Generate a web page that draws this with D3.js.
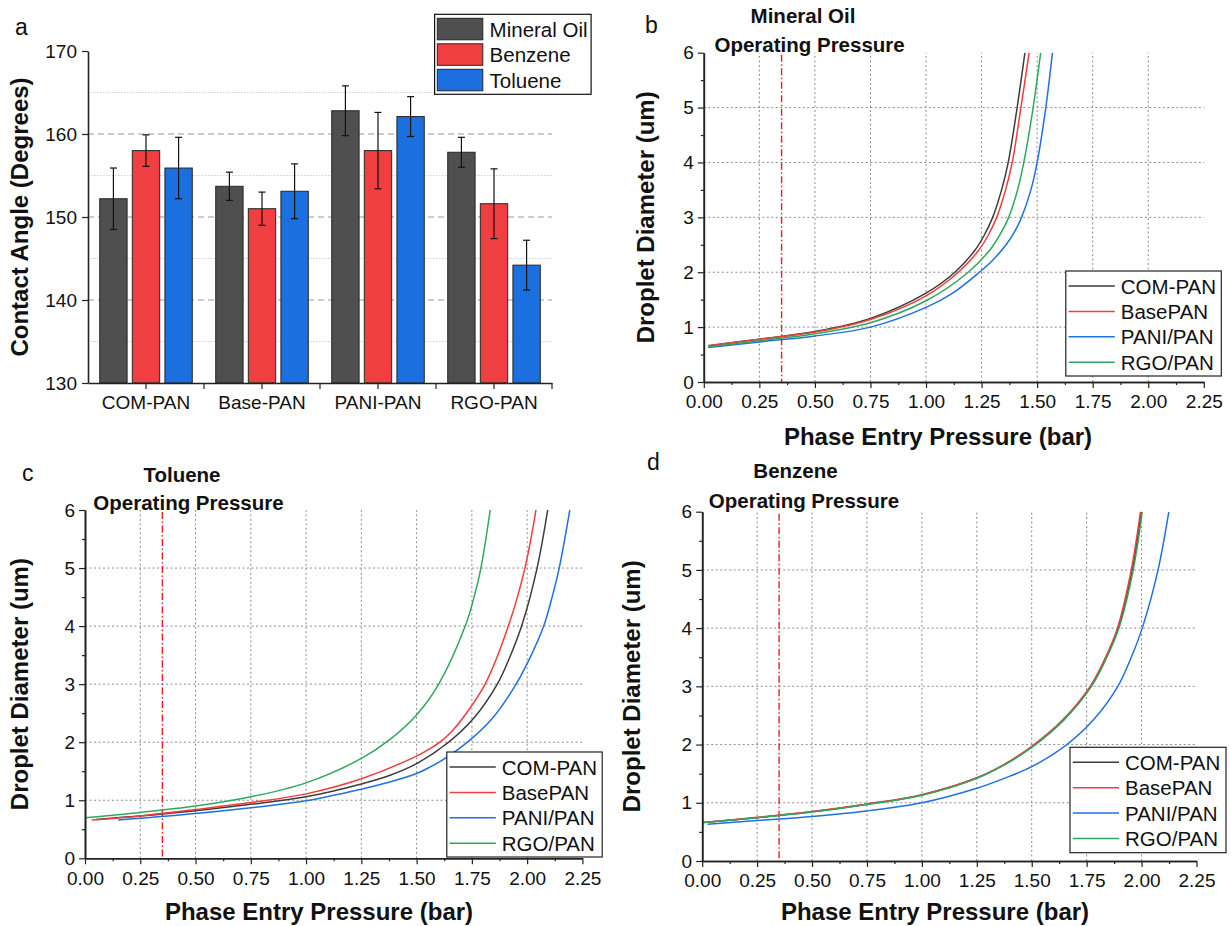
<!DOCTYPE html>
<html>
<head>
<meta charset="utf-8">
<script src="https://cdn.jsdelivr.net/npm/d3@7"></script>
<style>
  html, body { margin: 0; padding: 0; background: #fff; }
  svg { display: block; font-family: "Liberation Sans", Arial, sans-serif; }
</style>
</head>
<body>
<svg id="chart" width="1231" height="926"></svg>
<script>
// ---------------- DATA ----------------
// Panel a: contact angles
const categories = ["COM-PAN", "Base-PAN", "PANI-PAN", "RGO-PAN"];
const solvents = ["Mineral Oil", "Benzene", "Toluene"];
const mineralOilAngle = [152.2, 153.7, 162.8, 157.8];
const mineralOilErr   = [3.7, 1.7, 3.0, 1.8];
const benzeneAngle    = [158.0, 151.0, 158.0, 151.6];
const benzeneErr      = [1.9, 2.0, 4.6, 4.2];
const tolueneAngle    = [155.9, 153.1, 162.1, 144.2];
const tolueneErr      = [3.7, 3.3, 2.4, 3.0];
const angleTicks      = [130, 140, 150, 160, 170];
const angleMajorGrid  = [140, 150, 160];
const angleMinorGrid  = [135, 145, 155, 165];

// Panels b-d: droplet diameter vs phase entry pressure ([pressure, diameter])
const membranes = ["COM-PAN", "BasePAN", "PANI/PAN", "RGO/PAN"];
const pressureTicks = [0, 0.25, 0.5, 0.75, 1.0, 1.25, 1.5, 1.75, 2.0, 2.25];
const pressureMinorTicks = [0.125, 0.375, 0.625, 0.875, 1.125, 1.375, 1.625, 1.875, 2.125];
const pressureGrid = [0.25, 0.5, 0.75, 1.0, 1.25, 1.5, 1.75, 2.0];
const diameterTicks = [0, 1, 2, 3, 4, 5, 6];
const diameterMinorTicks = [0.5, 1.5, 2.5, 3.5, 4.5, 5.5];
const diameterGrid = [1, 2, 3, 4, 5];
const operatingPressure = 0.35;

// b: Mineral Oil
const oilCOM  = [[0.02,0.66],[0.25,0.78],[0.50,0.92],[0.75,1.16],[1.00,1.62],[1.13,2.00],[1.22,2.40],[1.26,2.66],[1.30,3.00],[1.34,3.50],[1.37,4.00],[1.41,5.00],[1.445,6.00]];
const oilBase = [[0.02,0.66],[0.25,0.78],[0.50,0.91],[0.75,1.14],[1.00,1.57],[1.145,2.00],[1.237,2.40],[1.278,2.66],[1.318,3.00],[1.358,3.50],[1.388,4.00],[1.427,5.00],[1.464,6.00]];
const oilPANI = [[0.02,0.63],[0.25,0.73],[0.50,0.84],[0.75,1.00],[1.00,1.36],[1.12,1.62],[1.24,2.00],[1.30,2.22],[1.36,2.50],[1.40,2.75],[1.43,3.00],[1.472,3.50],[1.50,4.00],[1.539,5.00],[1.569,6.00]];
const oilRGO  = [[0.02,0.64],[0.25,0.75],[0.50,0.88],[0.75,1.08],[1.00,1.48],[1.19,2.00],[1.29,2.42],[1.332,2.68],[1.372,3.00],[1.412,3.50],[1.44,4.00],[1.482,5.00],[1.516,6.00]];

// c: Toluene
const tolCOM  = [[0.05,0.67],[0.25,0.73],[0.50,0.82],[0.75,0.93],[1.00,1.06],[1.25,1.28],[1.38,1.43],[1.50,1.63],[1.645,2.00],[1.76,2.42],[1.865,3.00],[1.92,3.45],[1.975,4.00],[2.045,5.00],[2.093,6.00]];
const tolBase = [[0.03,0.66],[0.25,0.73],[0.50,0.84],[0.75,0.96],[1.00,1.11],[1.25,1.37],[1.50,1.76],[1.555,1.875],[1.605,2.00],[1.66,2.19],[1.71,2.42],[1.81,3.00],[1.915,4.00],[1.99,5.00],[2.04,6.00]];
const tolPANI = [[0.15,0.66],[0.25,0.69],[0.50,0.77],[0.75,0.87],[1.00,0.99],[1.25,1.19],[1.375,1.31],[1.50,1.46],[1.56,1.57],[1.62,1.70],[1.73,2.00],[1.845,2.42],[1.95,3.00],[2.015,3.47],[2.075,4.00],[2.113,4.50],[2.145,5.00],[2.193,6.00]];
const tolRGO  = [[0.00,0.70],[0.25,0.79],[0.50,0.90],[0.75,1.06],[1.00,1.30],[1.25,1.72],[1.38,2.05],[1.50,2.47],[1.60,3.00],[1.72,4.00],[1.76,4.50],[1.791,5.00],[1.833,6.00]];

// d: Benzene
const benCOM  = [[0.005,0.66],[0.25,0.745],[0.50,0.845],[0.75,0.975],[1.00,1.135],[1.25,1.425],[1.375,1.655],[1.50,1.96],[1.643,2.42],[1.769,3.00],[1.833,3.45],[1.894,4.00],[1.958,5.00],[1.999,6.00]];
const benBase = [[0.005,0.66],[0.25,0.75],[0.50,0.85],[0.75,0.98],[1.00,1.14],[1.25,1.43],[1.375,1.66],[1.50,1.97],[1.64,2.42],[1.766,3.00],[1.83,3.45],[1.89,4.00],[1.953,5.00],[1.995,6.00]];
const benPANI = [[0.024,0.63],[0.25,0.695],[0.50,0.765],[0.75,0.86],[1.00,1.00],[1.25,1.25],[1.375,1.42],[1.50,1.62],[1.66,2.00],[1.78,2.42],[1.892,3.00],[1.95,3.47],[2.003,4.00],[2.075,5.00],[2.124,6.00]];
const benRGO  = [[0.005,0.66],[0.25,0.745],[0.50,0.84],[0.75,0.97],[1.00,1.13],[1.25,1.42],[1.375,1.65],[1.50,1.95],[1.646,2.42],[1.772,3.00],[1.836,3.45],[1.897,4.00],[1.962,5.00],[2.003,6.00]];

// ---------------- STYLE ----------------
const FONT = '"Liberation Sans", Arial, sans-serif';
const barColors = { "Mineral Oil": "#4f4f4f", "Benzene": "#ef3f40", "Toluene": "#1b6fde" };
const lineColors = { "COM-PAN": "#3c3c3c", "BasePAN": "#f23c3c", "PANI/PAN": "#2070e0", "RGO/PAN": "#2ea85c" };

const svg = d3.select("#chart");

// ---------------- PANEL A ----------------
(function panelA() {
  const g = svg.append("g");
  const x0 = d3.scaleBand().domain(categories).range([88, 552]).paddingInner(0).paddingOuter(0);
  const x1 = d3.scaleBand().domain(solvents).range([0, x0.bandwidth()]).paddingInner(0.16).paddingOuter(0.36);
  const y = d3.scaleLinear().domain([130, 170]).range([383, 51]);
  const vals = { "Mineral Oil": mineralOilAngle, "Benzene": benzeneAngle, "Toluene": tolueneAngle };
  const errs = { "Mineral Oil": mineralOilErr, "Benzene": benzeneErr, "Toluene": tolueneErr };

  g.selectAll(".gmin").data(angleMinorGrid).enter().append("line")
    .attr("x1", 88).attr("x2", 552).attr("y1", d => y(d)).attr("y2", d => y(d))
    .attr("stroke", "#c4c4c4").attr("stroke-width", 0.8).attr("stroke-dasharray", "1.5,1.5");
  g.selectAll(".gmaj").data(angleMajorGrid).enter().append("line")
    .attr("x1", 88).attr("x2", 552).attr("y1", d => y(d)).attr("y2", d => y(d))
    .attr("stroke", "#9a9a9a").attr("stroke-width", 1.1).attr("stroke-dasharray", "6,4");

  const rows = [];
  categories.forEach((c, i) => solvents.forEach(s => rows.push({ c, s, v: vals[s][i], e: errs[s][i] })));
  g.selectAll(".bar").data(rows).enter().append("rect")
    .attr("x", d => x0(d.c) + x1(d.s)).attr("width", x1.bandwidth())
    .attr("y", d => y(d.v)).attr("height", d => y(130) - y(d.v))
    .attr("fill", d => barColors[d.s]).attr("stroke", "#262626").attr("stroke-width", 1);

  const eb = g.selectAll(".eb").data(rows).enter().append("g")
    .attr("stroke", "#111").attr("stroke-width", 1.2);
  const cx = d => x0(d.c) + x1(d.s) + x1.bandwidth() / 2;
  eb.append("line").attr("x1", cx).attr("x2", cx).attr("y1", d => y(d.v - d.e)).attr("y2", d => y(d.v + d.e));
  eb.append("line").attr("x1", d => cx(d) - 3.5).attr("x2", d => cx(d) + 3.5).attr("y1", d => y(d.v + d.e)).attr("y2", d => y(d.v + d.e));
  eb.append("line").attr("x1", d => cx(d) - 3.5).attr("x2", d => cx(d) + 3.5).attr("y1", d => y(d.v - d.e)).attr("y2", d => y(d.v - d.e));

  const ax = g.append("g").attr("transform", "translate(0,383)")
    .call(d3.axisBottom(x0).tickSize(6).tickPadding(7).tickSizeOuter(0));
  const ay = g.append("g").attr("transform", "translate(88,0)")
    .call(d3.axisLeft(y).tickValues(angleTicks).tickSize(6).tickPadding(5).tickSizeOuter(0));
  g.selectAll(".bt").data(categories.slice(1).concat(["__end"])).enter().append("line")
    .attr("x1", d => d === "__end" ? 552 : x0(d)).attr("x2", d => d === "__end" ? 552 : x0(d))
    .attr("y1", 383).attr("y2", 389).attr("stroke", "#222").attr("stroke-width", 1.2);
  [ax, ay].forEach(a => {
    a.select(".domain").attr("stroke", "#222").attr("stroke-width", 1.6);
    a.selectAll(".tick line").attr("stroke", "#222").attr("stroke-width", 1.2);
    a.selectAll(".tick text").attr("font-family", FONT).attr("font-size", 19).attr("fill", "#111");
  });

  svg.append("text").attr("transform", "translate(19,217) rotate(-90)")
    .attr("text-anchor", "middle").attr("dominant-baseline", "central")
    .attr("font-family", FONT).attr("font-weight", "bold").attr("font-size", 24).attr("fill", "#111")
    .text("Contact Angle (Degrees)");
  svg.append("text").attr("x", 15).attr("y", 35).attr("font-family", FONT).attr("font-size", 23).attr("fill", "#111").text("a");

  const lg = svg.append("g").attr("transform", "translate(434.6,14.3)");
  lg.append("rect").attr("width", 156.5).attr("height", 80).attr("fill", "#fff").attr("stroke", "#111").attr("stroke-width", 1.2);
  solvents.forEach((s, i) => {
    const yy = 4 + i * 25.5;
    lg.append("rect").attr("x", 2.7).attr("y", yy).attr("width", 45.5).attr("height", 21.5)
      .attr("fill", barColors[s]).attr("stroke", "#262626").attr("stroke-width", 1);
    lg.append("text").attr("x", 55).attr("y", yy + 10.75).attr("dominant-baseline", "central")
      .attr("font-family", FONT).attr("font-size", 20.5).attr("fill", "#111").text(s);
  });
})();

// ---------------- LINE PANELS ----------------
function linePanel(cfg) {
  const g = svg.append("g");
  const x = d3.scaleLinear().domain([0, 2.25]).range([cfg.x0, cfg.x1]);
  const y = d3.scaleLinear().domain([0, 6]).range([cfg.yB, cfg.yT]);

  g.selectAll(".gv").data(pressureGrid).enter().append("line")
    .attr("x1", d => x(d)).attr("x2", d => x(d)).attr("y1", cfg.yB).attr("y2", cfg.yT)
    .attr("stroke", "#8c8c8c").attr("stroke-width", 1).attr("stroke-dasharray", "2,2.5");
  g.selectAll(".gh").data(diameterGrid).enter().append("line")
    .attr("x1", cfg.x0).attr("x2", cfg.x1).attr("y1", d => y(d)).attr("y2", d => y(d))
    .attr("stroke", "#8c8c8c").attr("stroke-width", 1).attr("stroke-dasharray", "2,2.5");

  g.append("line").attr("x1", x(operatingPressure)).attr("x2", x(operatingPressure))
    .attr("y1", cfg.yT + 2).attr("y2", cfg.yB)
    .attr("stroke", "#ee1c22").attr("stroke-width", 1.4).attr("stroke-dasharray", "7,2.5,1.5,2.5");

  svg.append("clipPath").attr("id", cfg.id).append("rect")
    .attr("x", cfg.x0).attr("y", cfg.yT).attr("width", cfg.x1 - cfg.x0).attr("height", cfg.yB - cfg.yT);
  const line = d3.line().x(d => x(d[0])).y(d => y(d[1])).curve(d3.curveCatmullRom.alpha(0.5));
  const lg = g.append("g").attr("clip-path", `url(#${cfg.id})`);
  membranes.forEach((m, i) => {
    lg.append("path").attr("d", line(cfg.series[i])).attr("fill", "none")
      .attr("stroke", lineColors[m]).attr("stroke-width", 1.5);
  });

  const ax = g.append("g").attr("transform", `translate(0,${cfg.yB})`)
    .call(d3.axisBottom(x).tickValues(pressureTicks).tickFormat(d3.format(".2f")).tickSize(6).tickPadding(7).tickSizeOuter(0));
  const axm = g.append("g").attr("transform", `translate(0,${cfg.yB})`)
    .call(d3.axisBottom(x).tickValues(pressureMinorTicks).tickFormat("").tickSize(3).tickSizeOuter(0));
  const ay = g.append("g").attr("transform", `translate(${cfg.x0},0)`)
    .call(d3.axisLeft(y).tickValues(diameterTicks).tickFormat(d3.format("d")).tickSize(6).tickPadding(4).tickSizeOuter(0));
  const aym = g.append("g").attr("transform", `translate(${cfg.x0},0)`)
    .call(d3.axisLeft(y).tickValues(diameterMinorTicks).tickFormat("").tickSize(3).tickSizeOuter(0));
  [ax, axm, ay, aym].forEach(a => {
    a.select(".domain").attr("stroke", "#222").attr("stroke-width", 1.6);
    a.selectAll(".tick line").attr("stroke", "#222").attr("stroke-width", 1.2);
    a.selectAll(".tick text").attr("font-family", FONT).attr("font-size", 19).attr("fill", "#111");
  });

  const bold = (t, xx, yy, size) => svg.append("text").attr("x", xx).attr("y", yy).attr("text-anchor", "middle")
    .attr("font-family", FONT).attr("font-weight", "bold").attr("font-size", size).attr("fill", "#111").text(t);
  bold(cfg.solvent, cfg.t1[0], cfg.t1[1], 20.5);
  bold("Operating Pressure", cfg.t2[0], cfg.t2[1], 20.5);
  bold("Phase Entry Pressure (bar)", cfg.xTitle[0], cfg.xTitle[1], 24);
  svg.append("text").attr("transform", `translate(${cfg.yTitleX},${(cfg.yB + cfg.yT) / 2}) rotate(-90)`)
    .attr("text-anchor", "middle").attr("dominant-baseline", "central")
    .attr("font-family", FONT).attr("font-weight", "bold").attr("font-size", 24).attr("fill", "#111")
    .text("Droplet Diameter (um)");
  svg.append("text").attr("x", cfg.letter[1]).attr("y", cfg.letter[2])
    .attr("font-family", FONT).attr("font-size", 23).attr("fill", "#111").text(cfg.letter[0]);

  const L = cfg.legend;
  const lgd = svg.append("g").attr("transform", `translate(${L[0]},${L[1]})`);
  lgd.append("rect").attr("width", L[2]).attr("height", L[3]).attr("fill", "#fff")
    .attr("stroke", "#222").attr("stroke-width", 1.2);
  membranes.forEach((m, i) => {
    const yy = 15 + i * 25.4;
    lgd.append("line").attr("x1", 2.8).attr("x2", 49).attr("y1", yy).attr("y2", yy)
      .attr("stroke", lineColors[m]).attr("stroke-width", 1.5);
    lgd.append("text").attr("x", 55).attr("y", yy).attr("dominant-baseline", "central")
      .attr("font-family", FONT).attr("font-size", 20.5).attr("fill", "#111").text(m);
  });
}

linePanel({
  id: "clipB", x0: 703.8, x1: 1203.8, yB: 382, yT: 52.7, solvent: "Mineral Oil",
  t1: [803, 23], t2: [809.6, 52], letter: ["b", 645, 33], yTitleX: 645.5, xTitle: [938, 445],
  legend: [1065.8, 271, 155.5, 105], series: [oilCOM, oilBase, oilPANI, oilRGO]
});
linePanel({
  id: "clipC", x0: 85, x1: 582.4, yB: 858.3, yT: 510, solvent: "Toluene",
  t1: [182, 482], t2: [188.5, 510], letter: ["c", 22, 481], yTitleX: 19, xTitle: [319, 920],
  legend: [446.8, 752, 155.4, 105], series: [tolCOM, tolBase, tolPANI, tolRGO]
});
linePanel({
  id: "clipD", x0: 702.2, x1: 1196.5, yB: 861, yT: 511.7, solvent: "Benzene",
  t1: [795.5, 478], t2: [804, 507.7], letter: ["d", 647, 470], yTitleX: 631, xTitle: [935, 920],
  legend: [1070, 747.3, 156, 105.4], series: [benCOM, benBase, benPANI, benRGO]
});
</script>
</body>
</html>
